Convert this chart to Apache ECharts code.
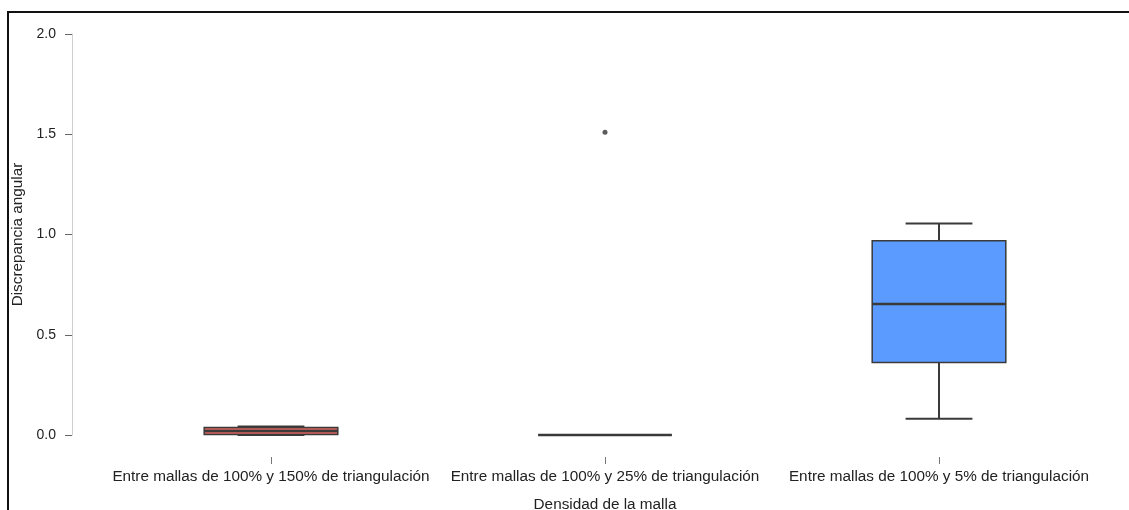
<!DOCTYPE html>
<html><head><meta charset="utf-8">
<script src="https://cdn.jsdelivr.net/npm/echarts@6/dist/echarts.min.js"></script>
<style>html,body{margin:0;padding:0;background:#fff}#c{width:1129px;height:510px}</style>
</head><body><div id="c"></div>
<script>
const categories = ['Entre mallas de 100% y 150% de triangulación','Entre mallas de 100% y 25% de triangulación','Entre mallas de 100% y 5% de triangulación'];
const whiskerLow = [0.0, 0.0, 0.081];
const q1 = [0.003, 0.0, 0.362];
const median = [0.020, 0.0, 0.653];
const q3 = [0.037, 0.0, 0.969];
const whiskerHigh = [0.042, 0.0, 1.055];
const boxColors = ['#D9645F', '#5CB85C', '#5B9BFF'];
const outliers = [[1, 1.51]];
const yTicks = [0, 0.5, 1.0, 1.5, 2.0];

const boxData = categories.map((c, i) => [i, whiskerLow[i], q1[i], median[i], q3[i], whiskerHigh[i]]);

const chart = echarts.init(document.getElementById('c'), null, {renderer: 'canvas'});
const edge = '#3a3a3a';
const font = 'Liberation Sans, Arial';
chart.setOption({
  animation: false,
  grid: {left: 104, right: 23, top: 34, bottom: 75, outerBoundsMode: 'none', containLabel: false},
  graphic: [{type: 'rect', shape: {x: 8, y: 12, width: 1140, height: 520}, style: {fill: 'none', stroke: '#111', lineWidth: 2}, z: 100}],
  xAxis: {
    type: 'category', data: categories, offset: 22,
    axisLine: {show: true, onZero: false, lineStyle: {color: '#fff', opacity: 0}},
    axisTick: {show: true, alignWithLabel: true, length: 7, lineStyle: {color: '#777'}},
    axisLabel: {color: '#222', fontSize: 15.3, fontFamily: font, margin: 12, interval: 0},
    name: 'Densidad de la malla', nameLocation: 'middle', nameGap: 40,
    nameTextStyle: {color: '#222', fontSize: 15.3, fontFamily: font}
  },
  yAxis: {
    type: 'value', min: 0, max: 2, interval: 0.5, offset: 32,
    axisLine: {show: true, onZero: false, lineStyle: {color: '#cfcfcf'}},
    axisTick: {show: true, length: 7, lineStyle: {color: '#666'}},
    splitLine: {show: false},
    axisLabel: {color: '#222', fontSize: 14, fontFamily: font, margin: 16, formatter: v => v.toFixed(1)},
    name: 'Discrepancia angular', nameLocation: 'middle', nameGap: 45,
    nameTextStyle: {color: '#222', fontSize: 15.3, fontFamily: font}
  },
  series: [{
    type: 'custom',
    data: boxData,
    encode: {x: 0, y: [1, 2, 3, 4, 5]},
    renderItem: function (params, api) {
      const i = api.value(0);
      const bw = api.size([1, 0])[0] * 0.4;
      const cw = bw / 2;
      const pLow = api.coord([i, api.value(1)]);
      const pQ1 = api.coord([i, api.value(2)]);
      const pMed = api.coord([i, api.value(3)]);
      const pQ3 = api.coord([i, api.value(4)]);
      const pHigh = api.coord([i, api.value(5)]);
      const x = pQ1[0];
      const ls = {stroke: edge, lineWidth: 2};
      return {type: 'group', children: [
        {type: 'line', shape: {x1: x, y1: pQ3[1], x2: x, y2: pHigh[1]}, style: ls},
        {type: 'line', shape: {x1: x, y1: pQ1[1], x2: x, y2: pLow[1]}, style: ls},
        {type: 'line', shape: {x1: x - cw / 2, y1: pHigh[1], x2: x + cw / 2, y2: pHigh[1]}, style: ls},
        {type: 'line', shape: {x1: x - cw / 2, y1: pLow[1], x2: x + cw / 2, y2: pLow[1]}, style: ls},
        {type: 'rect', shape: {x: x - bw / 2, y: pQ3[1], width: bw, height: pQ1[1] - pQ3[1]}, style: {fill: boxColors[i], stroke: edge, lineWidth: 1.5}},
        {type: 'line', shape: {x1: x - bw / 2, y1: pMed[1], x2: x + bw / 2, y2: pMed[1]}, style: {stroke: edge, lineWidth: 2.5}}
      ]};
    }
  }, {
    type: 'scatter', data: outliers, symbolSize: 5, itemStyle: {color: '#333'}
  }]
});
</script></body></html>
